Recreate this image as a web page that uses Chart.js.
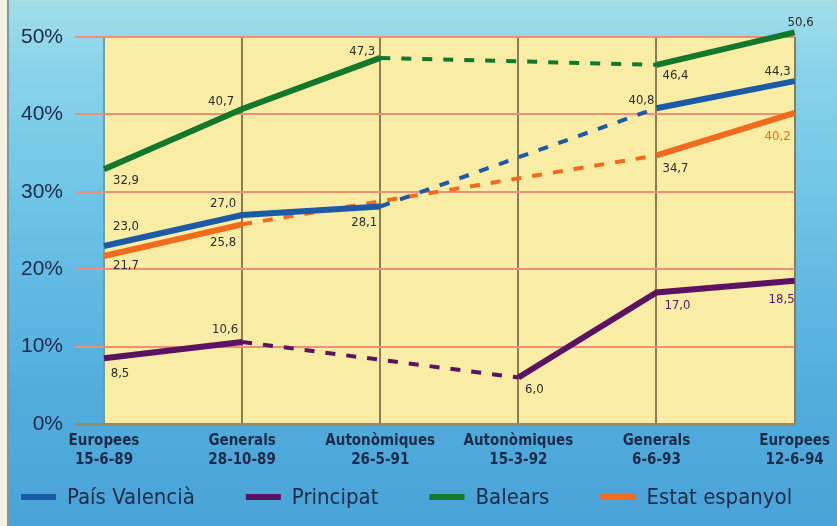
<!DOCTYPE html>
<html>
<head>
<meta charset="utf-8">
<script src="https://cdn.jsdelivr.net/npm/chart.js@4.4.0/dist/chart.umd.min.js"></script>
<style>
html, body { margin: 0; padding: 0; }
body {
    width: 837px; height: 526px; overflow: hidden;
    background: linear-gradient(180deg, #a2dde9 0%, #8ad4ea 12%, #6cc3e6 40%, #52addd 75%, #4aa3d8 100%);
}
#wrap { position: relative; width: 837px; height: 526px; }
#strip { position: absolute; left: 0; top: 0; width: 7px; height: 526px; background: #f4f0e2; border-right: 2px solid #7e9aa0; }
</style>
</head>
<body>
<div id="wrap">
    <div id="strip"></div>
    <canvas id="chart"></canvas>
</div>
<script>
// eleccions: percentatges de vot
const categories = [
    ["Europees", "15-6-89"],
    ["Generals", "28-10-89"],
    ["Autonòmiques", "26-5-91"],
    ["Autonòmiques", "15-3-92"],
    ["Generals", "6-6-93"],
    ["Europees", "12-6-94"]
];
const seriesNames = ["País Valencià", "Principat", "Balears", "Estat espanyol"];
const paisValencia = [23.0, 27.0, 28.1, null, 40.8, 44.3];
const principat = [8.5, 10.6, null, 6.0, 17.0, 18.5];
const balears = [32.9, 40.7, 47.3, null, 46.4, 50.6];
const estatEspanyol = [21.7, 25.8, null, null, 34.7, 40.2];
const yTicks = [0, 10, 20, 30, 40, 50];

const colors = ["#1b5aa6", "#5c1262", "#12782c", "#f26a1c"];
const textColor = "#1b2a48";

// where each value label sits, relative to its point (px)
const labelOffsets = [
    [[22, -19], [-19, -11], [-16, 16], null, [-15, -8], [-17, -9]],
    [[16, 15], [-17, -12], null, [16, 12], [21, 13], [-13, 19]],
    [[22, 11], [-21, -7], [-18, -6], null, [19, 11], [6, -10]],
    [[22, 10], [-19, 18], null, null, [19, 13], [-17, 24]]
];
const labelColors = [
    ["#2b2b2b", "#2b2b2b", "#2b2b2b", null, "#2b2b2b", "#2b2b2b"],
    ["#2b2b2b", "#2b2b2b", null, "#2b2b2b", "#5c1262", "#5c1262"],
    ["#2b2b2b", "#2b2b2b", "#2b2b2b", null, "#2b2b2b", "#2b2b2b"],
    ["#2b2b2b", "#2b2b2b", null, null, "#2b2b2b", "#f26a1c"]
];

const condensed = "'DejaVu Sans Condensed', 'Liberation Sans', sans-serif";

function makeDataset(i, values) {
    // a segment that jumps over a missing election is dashed
    const gap = ctx => values[ctx.p0DataIndex] == null;
    return {
        label: seriesNames[i],
        data: values,
        borderColor: colors[i],
        backgroundColor: colors[i],
        borderWidth: 6,
        pointRadius: 0,
        pointHoverRadius: 0,
        spanGaps: true,
        clip: false,
        tension: 0,
        segment: {
            borderDash: ctx => gap(ctx) ? [10, 11] : undefined,
            borderWidth: ctx => gap(ctx) ? 4 : undefined
        }
    };
}

const plotBackground = {
    id: "plotBackground",
    beforeDraw(chart) {
        const a = chart.chartArea;
        const c = chart.ctx;
        c.save();
        c.fillStyle = "#f9eda6";
        c.fillRect(a.left, a.top, a.right - a.left, a.bottom - a.top);
        c.restore();
    }
};

const valueLabels = {
    id: "valueLabels",
    afterDatasetsDraw(chart) {
        const c = chart.ctx;
        c.save();
        c.font = "13px " + condensed;
        c.textAlign = "center";
        c.textBaseline = "middle";
        chart.data.datasets.forEach((ds, i) => {
            const meta = chart.getDatasetMeta(i);
            ds.data.forEach((v, j) => {
                if (v == null) return;
                const pt = meta.data[j];
                const off = labelOffsets[i][j];
                c.fillStyle = labelColors[i][j];
                c.fillText(v.toFixed(1).replace(".", ","), pt.x + off[0], pt.y + off[1]);
            });
        });
        c.restore();
    }
};

const bottomLegend = {
    id: "bottomLegend",
    afterDraw(chart) {
        const c = chart.ctx;
        c.save();
        c.font = "22px " + condensed;
        c.textBaseline = "middle";
        let x = 21;
        const y = 497;
        chart.data.datasets.forEach(ds => {
            c.strokeStyle = ds.borderColor;
            c.lineWidth = 6;
            c.beginPath();
            c.moveTo(x, y);
            c.lineTo(x + 35, y);
            c.stroke();
            c.fillStyle = textColor;
            c.fillText(ds.label, x + 46, y + 1);
            x += 46 + c.measureText(ds.label).width + 51;
        });
        c.restore();
    }
};

const ctx = document.getElementById("chart").getContext("2d");
const myChart = new Chart(ctx, {
    type: "line",
    data: {
        labels: categories,
        datasets: [
            makeDataset(0, paisValencia),
            makeDataset(1, principat),
            makeDataset(2, balears),
            makeDataset(3, estatEspanyol)
        ]
    },
    options: {
        responsive: true,
        maintainAspectRatio: false,
        animation: false,
        layout: { padding: { top: 37, right: 42, left: 0, bottom: 52 } },
        plugins: {
            legend: { display: false },
            tooltip: { enabled: false }
        },
        scales: {
            x: {
                offset: false,
                afterFit: scale => { scale.height = 50; },
                border: { display: false },
                grid: {
                    color: c => c.index === 0 ? "#6e9ea2" : "#8b7c52",
                    lineWidth: 2,
                    drawTicks: false
                },
                ticks: {
                    padding: 7,
                    maxRotation: 0,
                    autoSkip: false,
                    color: textColor,
                    font: { family: condensed, size: 15, weight: "bold", lineHeight: 1.3 }
                }
            },
            y: {
                min: 0,
                max: 50,
                afterFit: scale => { scale.width = 104; },
                afterBuildTicks: scale => { scale.ticks = yTicks.map(v => ({ value: v })); },
                border: { display: false },
                grid: {
                    color: c => c.tick && c.tick.value === 0 ? "#9c8a5c" : "#ee8f78",
                    lineWidth: c => c.tick && c.tick.value === 0 ? 3 : 2,
                    tickLength: 29
                },
                ticks: {
                    padding: 12,
                    color: textColor,
                    font: { family: "'Liberation Sans', Arial, sans-serif", size: 21 },
                    callback: v => v + "%"
                }
            }
        }
    },
    plugins: [plotBackground, valueLabels, bottomLegend]
});
</script>
</body>
</html>
